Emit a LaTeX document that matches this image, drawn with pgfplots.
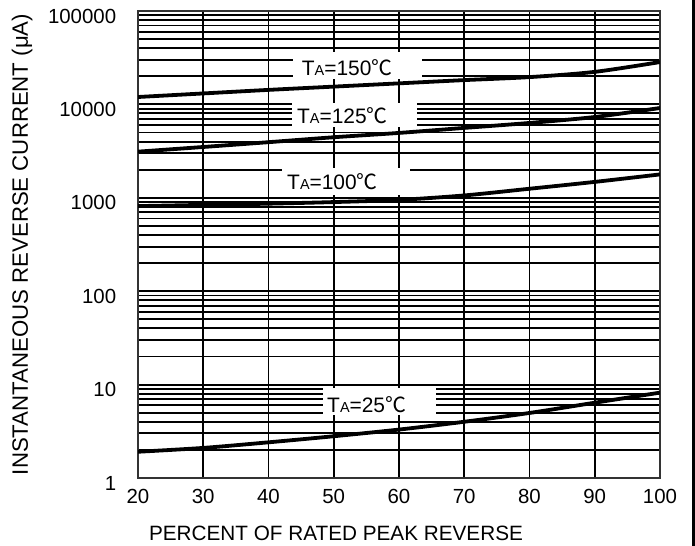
\documentclass[border=0pt]{standalone}
\usepackage{pgfplots}
\pgfplotsset{compat=1.18}
\usepackage{fontspec}
\setmainfont{Liberation Sans}
\newfontfamily\cjk{Noto Sans CJK SC}
\newfontfamily\lib{Liberation Sans}
\newcommand{\TA}{T{\fontsize{14.5}{14}\selectfont A}}
\newcommand{\degC}{{\cjk\fontsize{21}{24}\selectfont ℃}}
\begin{document}
\fontsize{20}{24}\selectfont
\begin{tikzpicture}
\path[use as bounding box] (0,0) rectangle (695bp,546bp);
\fill[black] (692bp,0) rectangle (695bp,546bp);
\begin{axis}[
  at={(138bp,68bp)}, anchor=south west,
  scale only axis, width=522bp, height=467bp,
  ymode=log,
  xmin=20, xmax=100, ymin=1, ymax=100000,
  xtick={20,30,...,100},
  ytick={1,10,100,1000,10000,100000},
  yticklabels={1,10,100,1000,10000,100000},
  minor ytick={2,3,4,5,6,7,8,9,20,30,40,50,60,70,80,90,200,300,400,500,600,700,800,900,2000,3000,4000,5000,6000,7000,8000,9000,20000,30000,40000,50000,60000,70000,80000,90000},
  major tick length=0pt, minor tick length=0pt,
  grid=both,
  major grid style={black, line width=1.9bp},
  minor grid style={black, line width=1.9bp},
  axis line style={black!80, line width=1.5bp},
  tick label style={font=\fontsize{20.5}{24}\selectfont},
  /pgf/number format/assume math mode=true,
  yticklabel style={xshift=-15bp, yshift=-5bp},
  xticklabel style={yshift=-4.5bp},
  xlabel={PERCENT OF RATED PEAK REVERSE},
  xlabel style={font=\fontsize{20.8}{24}\selectfont, at={(axis description cs:0.3793,-0.1178)}, anchor=center},
  ylabel={INSTANTANEOUS REVERSE CURRENT (μA)},
  ylabel style={font=\fontsize{22.3}{26}\selectfont, at={(axis description cs:-0.2222,0.5)}, anchor=center},
  every node/.append style={font=\lib\fontsize{21}{24}\selectfont},
]
\addplot[black, line width=3.8bp, smooth] coordinates {
 (20,12000) (30,13100) (40,14300) (50,15500) (60,16800) (70,18200) (80,19600) (90,22300) (100,28400)};
\addplot[black, line width=3.8bp, smooth] coordinates {
 (20,3120) (30,3500) (40,3940) (50,4450) (60,4950) (70,5600) (80,6330) (90,7330) (100,9150)};
\addplot[black, line width=3.8bp, smooth] coordinates {
 (20,815) (30,840) (40,865) (50,900) (60,950) (70,1060) (80,1250) (90,1480) (100,1780)};
\addplot[black, line width=3.8bp, smooth] coordinates {
 (20,1.91) (30,2.1) (40,2.41) (50,2.8) (60,3.3) (70,4.0) (80,4.97) (90,6.4) (100,8.2)};

\node[fill=white, minimum width=129bp, minimum height=27bp, inner sep=0pt] at (axis cs:53.64,26100) {};
\node[anchor=base west, inner sep=0pt, font=\lib\fontsize{21}{24}\selectfont] at (axis cs:45.09,20140) {\TA=150\degC};
\node[fill=white, minimum width=125bp, minimum height=24bp, inner sep=0pt] at (axis cs:53.18,7700) {};
\node[anchor=base west, inner sep=0pt, font=\lib\fontsize{21}{24}\selectfont] at (axis cs:44.37,6170) {\TA=125\degC};
\node[fill=white, minimum width=128bp, minimum height=27bp, inner sep=0pt] at (axis cs:51.88,1495) {};
\node[anchor=base west, inner sep=0pt, font=\lib\fontsize{21}{24}\selectfont] at (axis cs:42.84,1212) {\TA=100\degC};
\node[fill=white, minimum width=113bp, minimum height=27bp, inner sep=0pt] at (axis cs:57.01,6.59) {};
\node[anchor=base west, inner sep=0pt, font=\lib\fontsize{21}{24}\selectfont] at (axis cs:48.97,4.97) {\TA=25\degC};
\end{axis}
\end{tikzpicture}
\end{document}
